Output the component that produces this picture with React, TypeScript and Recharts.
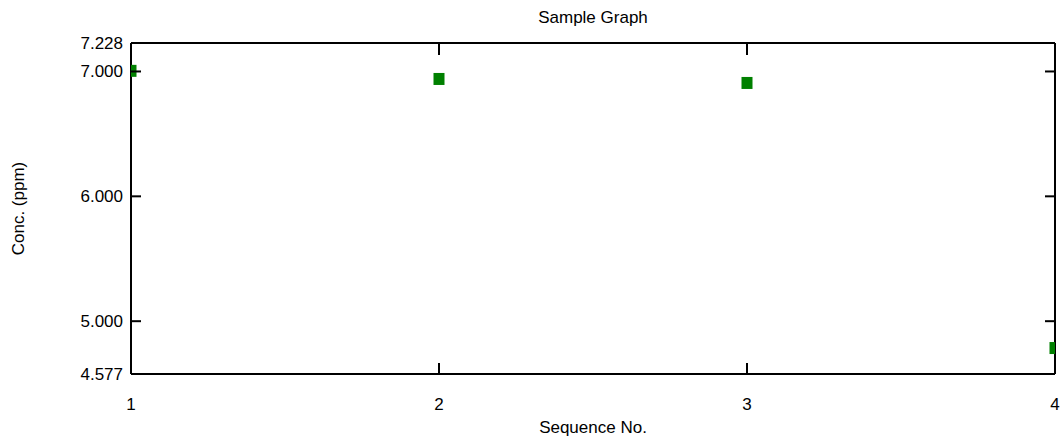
import React from "react";
import { ScatterChart, Scatter, XAxis, YAxis, Label } from "recharts";

const sequence = [1, 2, 3, 4];
const concentration = [7.005, 6.94, 6.908, 4.785];
const xTicks = [1, 2, 3, 4];
const xInnerTicks = [2, 3];
const yTicks = [4.577, 5, 6, 7, 7.228];
const yInnerTicks = [5, 6, 7];
const yDomain = [4.577, 7.228];
const xDomain = [1, 4];

const data = sequence.map((s, i) => ({ seq: s, conc: concentration[i] }));

const FONT = "'Liberation Sans', Arial, sans-serif";
const FS = 17;
const GREEN = "#008000";

const LeftTick = (p: any) => {
  const v = p.payload.value;
  return (
    <g>
      {yInnerTicks.includes(v) && (
        <line x1={p.x} x2={p.x + 10} y1={p.y} y2={p.y} stroke="#000" strokeWidth={2} />
      )}
      <text x={p.x - 8} y={p.y} dy="0.35em" textAnchor="end" fontSize={FS} fontFamily={FONT} fill="#000">
        {Number(v).toFixed(3)}
      </text>
    </g>
  );
};

const RightTick = (p: any) => {
  const v = p.payload.value;
  if (!yInnerTicks.includes(v)) return <g />;
  return <line x1={p.x} x2={p.x - 10} y1={p.y} y2={p.y} stroke="#000" strokeWidth={2} />;
};

const BottomTick = (p: any) => {
  const v = p.payload.value;
  return (
    <g>
      {xInnerTicks.includes(v) && (
        <line x1={p.x} x2={p.x} y1={p.y} y2={p.y - 11} stroke="#000" strokeWidth={2} />
      )}
      <text x={p.x} y={p.y + 36} textAnchor="middle" fontSize={FS} fontFamily={FONT} fill="#000">
        {String(v)}
      </text>
    </g>
  );
};

const TopTick = (p: any) => {
  const v = p.payload.value;
  if (!xInnerTicks.includes(v)) return <g />;
  return <line x1={p.x} x2={p.x} y1={p.y} y2={p.y + 12} stroke="#000" strokeWidth={2} />;
};

const SquareMarker = (p: any) => (
  <rect x={p.cx - 5.5} y={p.cy - 6} width={11} height={12} fill={GREEN} />
);

const Empty = () => <g />;

export default function App() {
  return (
    <div style={{ position: "absolute", left: 0, top: 0, background: "#fff" }}>
      <ScatterChart
        width={1061}
        height={441}
        margin={{ top: 42, right: 5, bottom: 66, left: 130 }}
      >
        <XAxis
          xAxisId="b"
          dataKey="seq"
          type="number"
          domain={xDomain}
          ticks={xTicks}
          height={1}
          allowDataOverflow
          axisLine={{ stroke: "#000", strokeWidth: 2 }}
          tickLine={false}
          tickSize={0}
          tickMargin={0}
          tick={<BottomTick />}
          interval={0}
        >
          <Label
            value="Sequence No."
            position="bottom"
            offset={46}
            fontSize={FS}
            fontFamily={FONT}
            fill="#000"
          />
        </XAxis>
        <XAxis
          xAxisId="t"
          orientation="top"
          dataKey="seq"
          type="number"
          domain={xDomain}
          ticks={xTicks}
          height={1}
          allowDataOverflow
          axisLine={{ stroke: "#000", strokeWidth: 2 }}
          tickLine={false}
          tickSize={0}
          tickMargin={0}
          tick={<TopTick />}
          interval={0}
        >
          <Label
            value="Sample Graph"
            position="top"
            offset={19}
            fontSize={FS}
            fontFamily={FONT}
            fill="#000"
          />
        </XAxis>
        <YAxis
          yAxisId="l"
          dataKey="conc"
          type="number"
          domain={yDomain}
          ticks={yTicks}
          width={1}
          allowDataOverflow
          axisLine={{ stroke: "#000", strokeWidth: 2 }}
          tickLine={false}
          tickSize={0}
          tickMargin={0}
          tick={<LeftTick />}
          interval={0}
        >
          <Label
            value="Conc. (ppm)"
            position="left"
            offset={112}
            angle={-90}
            fontSize={FS}
            fontFamily={FONT}
            fill="#000"
            style={{ textAnchor: "middle" }}
          />
        </YAxis>
        <YAxis
          yAxisId="r"
          orientation="right"
          dataKey="conc"
          type="number"
          domain={yDomain}
          ticks={yTicks}
          width={1}
          allowDataOverflow
          axisLine={{ stroke: "#000", strokeWidth: 2 }}
          tickLine={false}
          tickSize={0}
          tickMargin={0}
          tick={<RightTick />}
          interval={0}
        />
        <Scatter
          xAxisId="t"
          yAxisId="r"
          data={data}
          shape={<Empty />}
          isAnimationActive={false}
        />
        <Scatter
          xAxisId="b"
          yAxisId="l"
          data={data}
          fill={GREEN}
          shape={<SquareMarker />}
          isAnimationActive={false}
        />
      </ScatterChart>
    </div>
  );
}
